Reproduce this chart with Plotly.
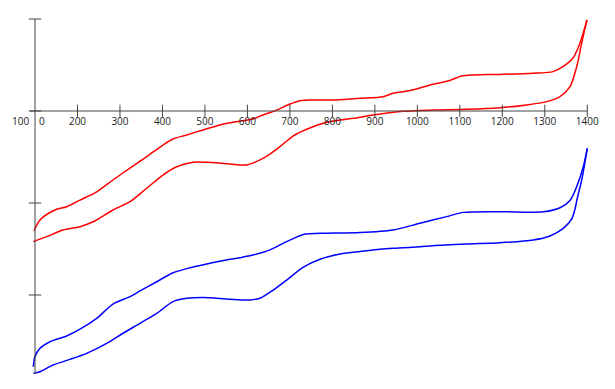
import plotly.graph_objects as go

# ---- data ----
red_upper_x = [97.6, 111.7, 147.0, 174.5, 205.9, 245.2, 283.5, 323.6, 362.9, 401.2, 424.8, 457.0, 495.4, 535.4,
               574.7, 613.1, 636.6, 668.9, 700.2, 723.7, 747.3, 810.1, 865.0, 919.1, 942.7, 966.2, 998.5,
               1036.8, 1072.1, 1104.4, 1131.0, 1194.5, 1272.2, 1319.3, 1342.8, 1366.4, 1382.9, 1399.3]
red_upper_y = [34.8, 40.8, 46.2, 48.0, 51.6, 56.1, 62.5, 69.0, 75.2, 81.5, 84.8, 87.0, 89.7, 92.4,
               94.2, 95.7, 97.8, 100.5, 103.8, 105.6, 106.0, 106.0, 106.9, 107.8, 109.6, 110.5, 112.0,
               114.5, 116.3, 119.0, 119.6, 119.9, 120.5, 121.4, 124.1, 128.8, 137.0, 149.5]

red_lower_x = [95.9, 127.5, 165.8, 205.9, 236.5, 283.5, 323.6, 362.9, 401.2, 433.5, 471.9, 504.1, 559.0,
               598.3, 629.6, 653.1, 676.7, 707.3, 739.5, 786.6, 848.5, 895.6, 959.2, 1036.8, 1116.2,
               1194.5, 1257.4, 1304.5, 1335.8, 1359.3, 1375.1, 1386.9, 1399.3]
red_lower_y = [29.0, 31.7, 35.3, 37.1, 39.8, 46.2, 50.7, 58.0, 65.2, 69.7, 72.1, 72.1, 71.2,
               70.7, 73.4, 76.6, 80.6, 86.4, 90.1, 93.9, 96.0, 97.8, 99.7, 100.5, 100.9,
               101.8, 103.3, 105.1, 107.8, 113.2, 124.1, 137.0, 149.5]

blue_upper_x = [95.9, 99.9, 111.7, 135.2, 174.5, 205.9, 245.2, 283.5, 323.6, 347.1, 386.4, 424.8, 464.8,
                504.1, 559.0, 582.5, 613.1, 653.1, 692.4, 735.5, 770.8, 865.0, 942.7, 1006.2, 1069.1,
                1108.1, 1194.5, 1296.5, 1335.8, 1359.3, 1375.1, 1390.6, 1400.0]
blue_upper_y = [-39.0, -33.5, -29.0, -25.4, -22.3, -18.6, -12.7, -4.9, -0.9, 2.2, 7.2, 12.1, 14.8,
                16.8, 19.4, 20.3, 21.7, 24.5, 29.0, 33.1, 33.5, 33.9, 35.3, 39.0, 42.6,
                44.9, 45.3, 45.2, 47.4, 51.4, 58.9, 69.7, 79.7]

blue_lower_x = [95.9, 111.7, 143.0, 182.3, 221.6, 268.7, 307.1, 347.1, 386.4, 424.8, 457.0, 495.4, 559.0,
                606.0, 629.6, 660.9, 692.4, 730.8, 770.8, 817.9, 865.0, 942.7, 1006.2, 1036.8, 1116.2,
                1194.5, 1272.9, 1312.2, 1343.5, 1363.3, 1371.1, 1376.5, 1386.9, 1400.0]
blue_lower_y = [-42.6, -41.7, -38.0, -35.0, -31.7, -26.3, -20.8, -15.4, -10.0, -3.6, -1.8, -1.3, -2.3,
                -2.7, -1.8, 2.7, 8.1, 15.0, 19.4, 22.3, 23.7, 25.4, 26.2, 26.8, 27.7,
                28.4, 29.9, 32.1, 36.2, 41.3, 46.7, 52.6, 62.5, 79.7]

x_tick_vals = [200, 300, 400, 500, 600, 700, 800, 900, 1000, 1100, 1200, 1300, 1400]
x_tick_labels = ["200", "300", "400", "500", "600", "700", "800", "900", "1000", "1100", "1200", "1300", "1400"]
y_tick_vals = [150, 100, 50, 0]
axis_x = 100      # y axis crosses at x = 100
axis_y = 100      # x axis crosses at y = 100

AX = "#444444"
TXT = "#222222"
FONT = "Open Sans"

fig = go.Figure()

for xs, ys, col in [(red_upper_x, red_upper_y, "#ff0000"), (red_lower_x, red_lower_y, "#ff0000"),
                    (blue_upper_x, blue_upper_y, "#0000ff"), (blue_lower_x, blue_lower_y, "#0000ff")]:
    fig.add_trace(go.Scatter(x=xs, y=ys, mode="lines",
                             line=dict(color=col, width=1.5, shape="spline", smoothing=0.8),
                             hoverinfo="skip", showlegend=False))

# tick marks
fig.add_trace(go.Scatter(x=x_tick_vals, y=[axis_y] * len(x_tick_vals), mode="markers+text",
                         marker=dict(symbol="line-ns-open", size=9, color=AX, line=dict(color=AX, width=1)),
                         text=x_tick_labels, textposition="bottom center",
                         textfont=dict(family=FONT, size=10, color=TXT),
                         hoverinfo="skip", showlegend=False))
fig.add_trace(go.Scatter(x=[axis_x] * len(y_tick_vals), y=y_tick_vals, mode="markers",
                         marker=dict(symbol="line-ew-open", size=9, color=AX, line=dict(color=AX, width=1)),
                         hoverinfo="skip", showlegend=False))

# axis lines
fig.add_shape(type="line", x0=axis_x, x1=axis_x, y0=-42.9, y1=150, line=dict(color=AX, width=1))
fig.add_shape(type="line", x0=88, x1=1400, y0=axis_y, y1=axis_y, line=dict(color=AX, width=1))

fig.add_annotation(x=117, y=axis_y, text="0", showarrow=False, yanchor="top", yshift=-1,
                   font=dict(family=FONT, size=10, color=TXT))
fig.add_annotation(x=axis_x, y=axis_y, text="100", showarrow=False, xanchor="right", yanchor="top",
                   xshift=-4, yshift=-1, font=dict(family=FONT, size=10, color=TXT))

# page body has an 8px margin; ranges compensate so the chart sits where the reference has it
fig.update_layout(
    width=615, height=389, margin=dict(l=0, r=0, t=0, b=0),
    paper_bgcolor="white", plot_bgcolor="white",
    xaxis=dict(range=[36.4, 1484.1], visible=False, fixedrange=True),
    yaxis=dict(range=[-55.44, 155.98], visible=False, fixedrange=True),
)

fig.write_html("out.html")
